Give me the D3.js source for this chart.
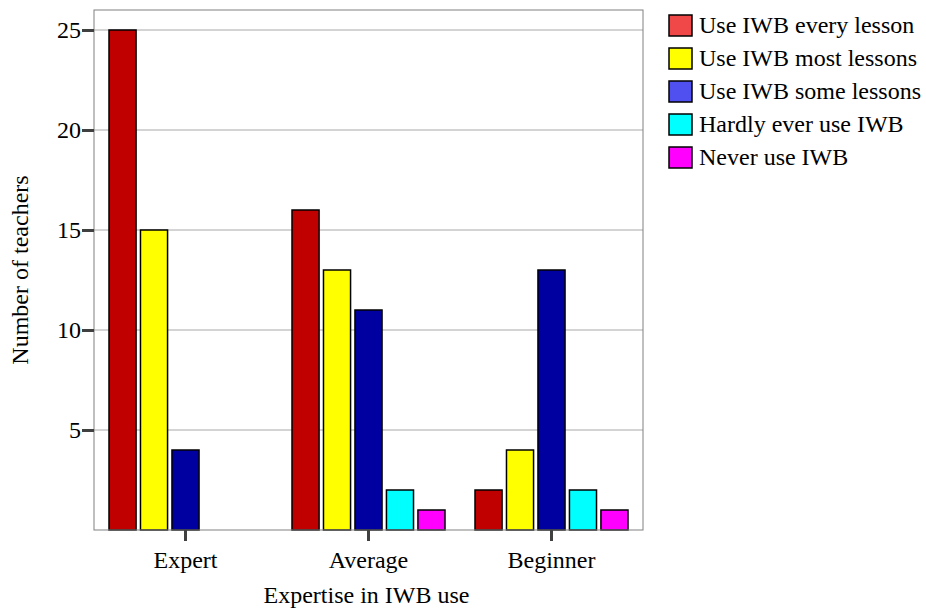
<!DOCTYPE html>
<html>
<head>
<meta charset="utf-8">
<script src="https://cdn.jsdelivr.net/npm/d3@7"></script>
<style>
  body { margin: 0; background: #fff; }
  svg text { font-family: 'Liberation Serif', 'Times New Roman', Times, 'DejaVu Serif', serif !important; fill: #000; }
</style>
</head>
<body>
<svg id="chart"></svg>
<script>
  // Data
  var categories = ['Expert', 'Average', 'Beginner']
  var series = ['Use IWB every lesson', 'Use IWB most lessons', 'Use IWB some lessons', 'Hardly ever use IWB', 'Never use IWB']
  var everyLesson = [25, 16, 2]
  var mostLessons = [15, 13, 4]
  var someLessons = [4, 11, 13]
  var hardlyEver = [0, 2, 2]
  var never = [0, 1, 1]
  var yTicks = [5, 10, 15, 20, 25]

  var barColors = ['#c00000', '#ffff00', '#0000a0', '#00ffff', '#ff00ff']
  var keyColors = ['#f04848', '#ffff00', '#5050f0', '#00ffff', '#ff00ff']

  var WIDTH = 926
  var HEIGHT = 610
  var FONT = '24px'
  var margin = { left: 94, top: 10, right: 283, bottom: 80 }
  var w = WIDTH - margin.left - margin.right
  var h = HEIGHT - margin.top - margin.bottom

  var values = [everyLesson, mostLessons, someLessons, hardlyEver, never]
  var rows = []
  categories.forEach(function (c, i) {
    series.forEach(function (s, j) {
      rows.push({ cat: c, series: s, idx: j, value: values[j][i] })
    })
  })

  var svg = d3.select('#chart')
    .attr('width', WIDTH)
    .attr('height', HEIGHT)

  var g = svg.append('g')
    .attr('transform', 'translate(' + margin.left + ',' + margin.top + ')')

  var x0 = d3.scaleBand().domain(categories).range([0, w])
  var x1 = d3.scaleBand().domain(series)
    .range([15, x0.bandwidth() - 15])
    .paddingInner(0.14)
  var y = d3.scaleLinear().domain([0, 26]).range([h, 0])

  // grid lines
  g.append('g')
    .selectAll('line')
    .data(yTicks)
    .enter().append('line')
    .attr('x1', 0)
    .attr('x2', w)
    .attr('y1', function (d) { return y(d) })
    .attr('y2', function (d) { return y(d) })
    .style('stroke', '#a8a8a8')
    .style('stroke-width', 1)

  // bars
  g.append('g')
    .selectAll('rect')
    .data(rows.filter(function (d) { return d.value > 0 }))
    .enter().append('rect')
    .attr('x', function (d) { return x0(d.cat) + x1(d.series) })
    .attr('y', function (d) { return y(d.value) })
    .attr('width', x1.bandwidth())
    .attr('height', function (d) { return h - y(d.value) })
    .style('fill', function (d) { return barColors[d.idx] })
    .style('stroke', '#000')
    .style('stroke-width', 1.5)

  // plot frame
  g.append('rect')
    .attr('width', w)
    .attr('height', h)
    .style('fill', 'none')
    .style('stroke', '#808080')
    .style('stroke-width', 1)

  // y axis
  var yAxis = g.append('g')
    .call(d3.axisLeft(y).tickValues(yTicks).tickSize(12).tickPadding(1))
  yAxis.attr('font-family', null).attr('font-size', null)
  yAxis.select('.domain').remove()
  yAxis.selectAll('.tick line').style('stroke', '#404040').style('stroke-width', 3)
  yAxis.selectAll('.tick text')
    .style('font-size', FONT)
    .attr('fill', '#000')

  // x axis
  var xAxis = g.append('g')
    .attr('transform', 'translate(0,' + h + ')')
    .call(d3.axisBottom(x0).tickSize(11).tickPadding(10))
  xAxis.attr('font-family', null).attr('font-size', null)
  xAxis.select('.domain').remove()
  xAxis.selectAll('.tick line').style('stroke', '#404040').style('stroke-width', 3)
  xAxis.selectAll('.tick text')
    .style('font-size', FONT)
    .attr('fill', '#000')

  // axis titles
  svg.append('text')
    .attr('x', margin.left + w / 2 - 2)
    .attr('y', 603)
    .attr('text-anchor', 'middle')
    .style('font-size', FONT)
    .text('Expertise in IWB use')

  svg.append('text')
    .attr('transform', 'translate(28,' + (margin.top + h / 2) + ') rotate(-90)')
    .attr('text-anchor', 'middle')
    .style('font-size', FONT)
    .text('Number of teachers')

  // legend
  var legend = svg.append('g')
    .attr('transform', 'translate(669,15)')
    .selectAll('g')
    .data(series)
    .enter().append('g')
    .attr('transform', function (d, i) { return 'translate(0,' + i * 33 + ')' })

  legend.append('rect')
    .attr('width', 23)
    .attr('height', 21)
    .style('fill', function (d, i) { return keyColors[i] })
    .style('stroke', '#000')
    .style('stroke-width', 1.5)

  legend.append('text')
    .attr('x', 30)
    .attr('y', 18)
    .style('font-size', FONT)
    .text(function (d) { return d })
</script>
</body>
</html>
